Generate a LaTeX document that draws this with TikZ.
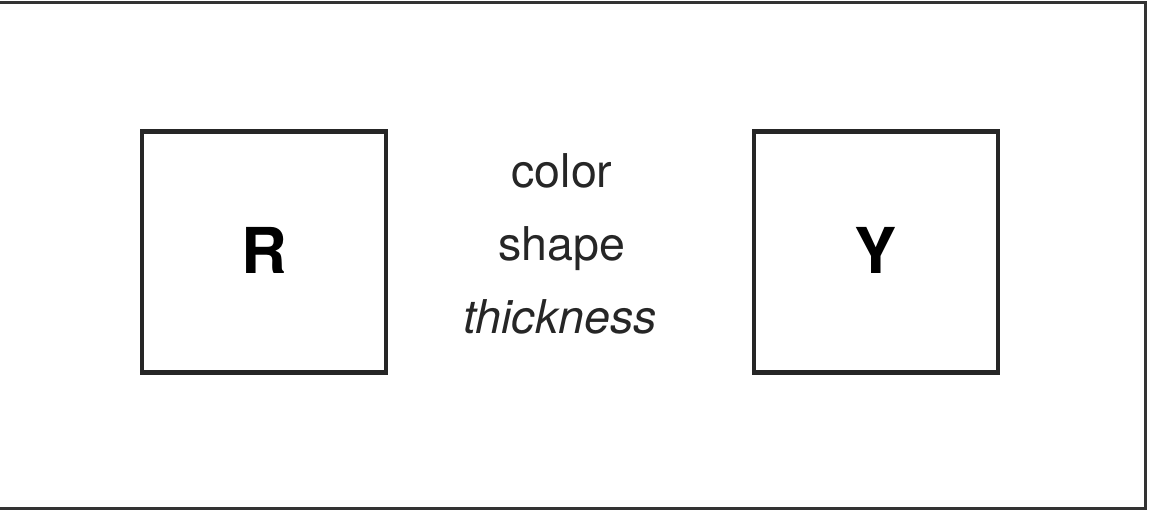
\documentclass[tikz,border=0pt]{standalone}
\usepackage{fontspec}
\setmainfont{TeX Gyre Heros}
\usepackage{tikz}
\usetikzlibrary{positioning}

\begin{document}
\begin{tikzpicture}[x=0.02cm,y=-0.02cm,
  card/.style={draw=black!85,line width=2.3pt,minimum width=244*0.02cm,minimum height=241*0.02cm,inner sep=0pt,font=\fontsize{36}{40}\selectfont\bfseries},
  word/.style={anchor=base,inner sep=0pt,font=\fontsize{26.5}{30}\selectfont,text=black!85}]
\useasboundingbox (0,0) rectangle (1159,515);
\draw[black!80,line width=1.7pt] (0,2) -- (1145,2) -- (1145,508) -- (0,508);
\node[card] (R) at (264,252) {\raisebox{2pt}{R}};
\node[card] (Y) at (876,252) {\raisebox{2pt}{Y}};
\node[word] (color) at (562,187) {color};
\node[word] (shape) at (562,260) {shape};
\node[word] (thick) at (560,333) {\itshape thickness};
\end{tikzpicture}
\end{document}
